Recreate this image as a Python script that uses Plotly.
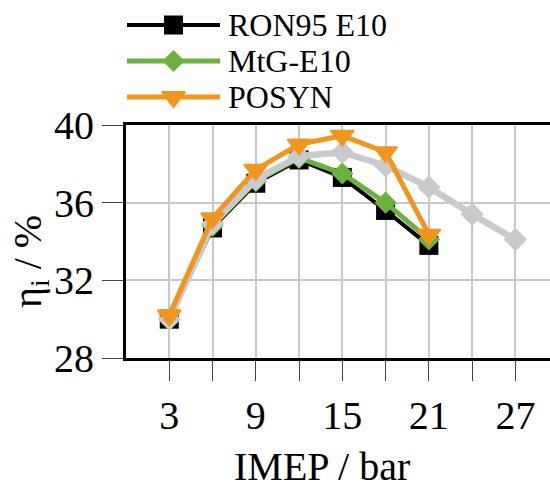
import plotly.graph_objects as go

# IMEP sweep (bar) and indicated efficiency (%) per fuel
imep = [3, 6, 9, 12, 15, 18, 21]
imep_ext = [3, 6, 9, 12, 15, 18, 21, 24, 27]
eta_ron95 = [30.0, 34.7, 37.0, 38.2, 37.3, 35.6, 33.8]
eta_mtg = [30.0, 34.8, 37.1, 38.3, 37.5, 36.0, 34.1]
eta_posyn = [30.2, 35.2, 37.7, 39.0, 39.45, 38.6, 34.35]
eta_ref = [30.0, 34.9, 37.2, 38.4, 38.6, 37.9, 36.8, 35.4, 34.1]

x_major = [3, 9, 15, 21, 27]
x_minor = [6, 12, 18, 24]
y_ticks = [28, 32, 36, 40]

names = ["RON95 E10", "MtG-E10", "POSYN"]

BLACK = "#000000"
GREEN = "#6BB13E"
ORANGE = "#F0961F"
GRAY = "#C9CACB"
FONT = "'Times New Roman', 'Liberation Serif', Times, serif"

W, H = 550, 489

fig = go.Figure()

fig.add_trace(go.Scatter(x=imep, y=eta_ron95, mode="lines+markers",
                         line=dict(color=BLACK, width=4),
                         marker=dict(symbol="square", size=19, color=BLACK),
                         showlegend=False))
fig.add_trace(go.Scatter(x=imep, y=eta_mtg, mode="lines+markers",
                         line=dict(color=GREEN, width=5),
                         marker=dict(symbol="diamond", size=17, color=GREEN),
                         showlegend=False))
# reference curve (drawn under the orange series)
fig.add_trace(go.Scatter(x=imep_ext, y=eta_ref, mode="lines+markers",
                         line=dict(color=GRAY, width=6.5),
                         marker=dict(symbol="diamond", size=18, color=GRAY),
                         showlegend=False))
fig.add_trace(go.Scatter(x=imep, y=eta_posyn, mode="lines+markers",
                         line=dict(color=ORANGE, width=5),
                         marker=dict(symbol="triangle-down", size=20, color=ORANGE,
                                     line=dict(color=ORANGE, width=2)),
                         showlegend=False))

# legend samples on their own small axis pair
leg_styles = [
    (BLACK, 4, "square", 19),
    (GREEN, 5, "diamond", 17),
    (ORANGE, 5, "triangle-down", 20),
]
for row, (name, (col, lw, sym, sz)) in enumerate(zip(names, leg_styles)):
    fig.add_trace(go.Scatter(x=[0, 1], y=[row, row], mode="lines", xaxis="x2", yaxis="y2",
                             line=dict(color=col, width=lw), showlegend=False,
                             hoverinfo="skip"))
    fig.add_trace(go.Scatter(x=[0.5], y=[row], mode="markers", xaxis="x2", yaxis="y2",
                             marker=dict(symbol=sym, size=sz, color=col,
                                         line=dict(color=col, width=2 if sym == "triangle-down" else 0)),
                             showlegend=False, hoverinfo="skip"))
    fig.add_annotation(x=1, y=row, xref="x2", yref="y2", text=name, showarrow=False,
                       xanchor="left", yanchor="middle", xshift=6,
                       font=dict(family=FONT, size=32, color="black"))

# plot area in pixels
left, right, top, bottom = 126, 550, 125, 358

fig.update_layout(
    width=W, height=H,
    margin=dict(l=0, r=0, t=0, b=0),
    paper_bgcolor="white", plot_bgcolor="white",
    font=dict(family=FONT, color="black"),
    xaxis=dict(
        domain=[left / W, right / W], range=[0, 29.4],
        tickvals=x_major,
        ticks="outside", ticklen=20, tickwidth=1.2, tickcolor="#444444",
        minor=dict(tickvals=x_minor, ticks="outside", ticklen=20, tickwidth=1.2,
                   tickcolor="#444444", showgrid=True, gridcolor="#C8C8C8", gridwidth=1.5),
        showline=True, linecolor="black", linewidth=3, mirror=True,
        showgrid=True, gridcolor="#C8C8C8", gridwidth=1.5,
        zeroline=False, automargin=False,
        tickfont=dict(family=FONT, size=40, color="black"),
    ),
    yaxis=dict(
        domain=[1 - bottom / H, 1 - top / H], range=[28, 40],
        tickvals=y_ticks,
        ticks="outside", ticklen=21, tickwidth=1.2, tickcolor="#444444",
        showline=True, linecolor="black", linewidth=3,
        showgrid=True, gridcolor="#C8C8C8", gridwidth=1.5,
        zeroline=False, automargin=False,
        tickfont=dict(family=FONT, size=40, color="black"),
    ),
    xaxis2=dict(domain=[127 / W, 220 / W], range=[0, 1], visible=False,
                anchor="y2", fixedrange=True),
    yaxis2=dict(domain=[1 - 115 / H, 1 - 7 / H], range=[2.5, -0.5], visible=False,
                anchor="x2", fixedrange=True),
    showlegend=False,
)

# axis titles
fig.add_annotation(x=322 / W, y=1 - 466 / H, xref="paper", yref="paper",
                   text="IMEP / bar", showarrow=False, xanchor="center", yanchor="middle",
                   font=dict(family=FONT, size=40, color="black"))
fig.add_annotation(x=30 / W, y=1 - 262 / H, xref="paper", yref="paper",
                   text="η<sub>i</sub> / %", showarrow=False, textangle=-90,
                   xanchor="center", yanchor="middle",
                   font=dict(family=FONT, size=40, color="black"))

fig.write_html("out.html")
